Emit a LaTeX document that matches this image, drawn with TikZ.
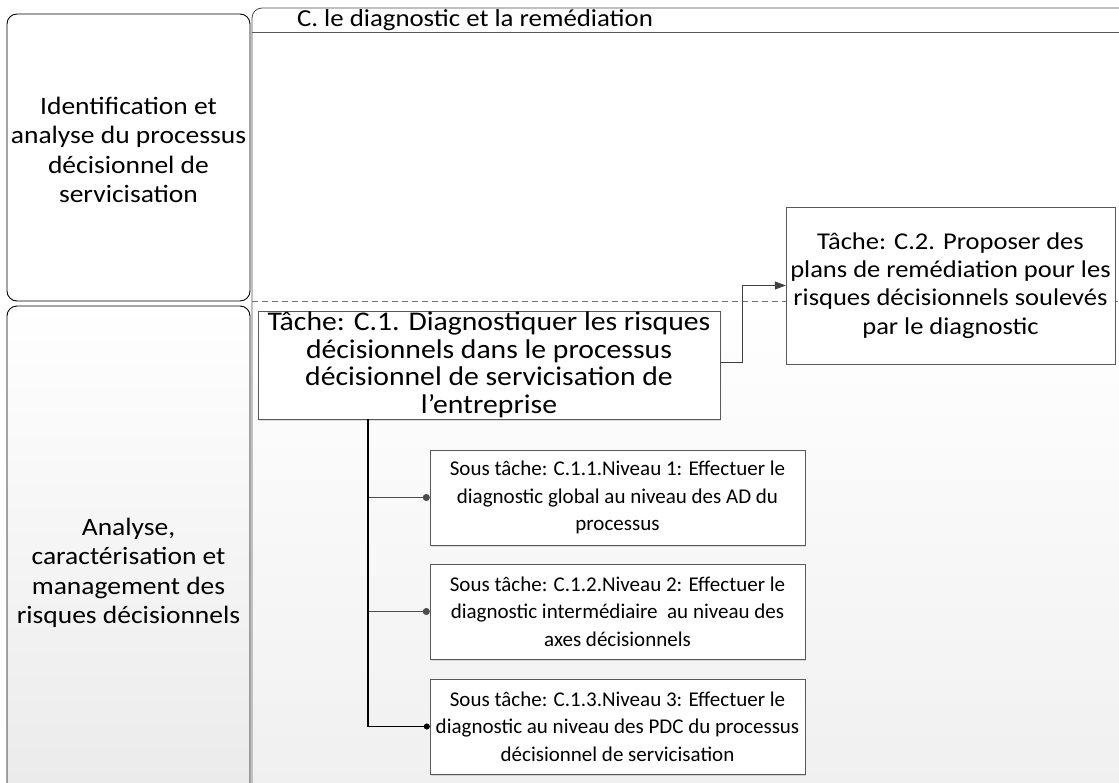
\documentclass[tikz,border=0pt]{standalone}
\usepackage{fontspec}
\setmainfont{Carlito}
\newfontfamily\widefont[FakeStretch=1.1]{Carlito}
\usetikzlibrary{arrows.meta,shadows}
\begin{document}
\begin{tikzpicture}[
x=1pt,y=-1pt,
lane/.style={draw,line width=0.9pt,rounded corners=10pt},
task/.style={draw=black!65,fill=white,align=center,inner sep=0pt,
  drop shadow={shadow xshift=1.2pt,shadow yshift=-1.5pt,opacity=0.25}},
subtask/.style={task,minimum width=375pt,minimum height=95pt,
  font=\fontsize{21}{27.5}\selectfont},
label/.style={align=center,font=\widefont\fontsize{25}{29.5}\selectfont},
flow/.style={draw=black!75,line width=1pt,-{Triangle[length=11pt,width=8pt]}},
trunk/.style={draw,line width=1.4pt,-{Circle[length=6pt]}},
branch/.style={draw=black!70,line width=1pt,-{Circle[length=7pt]}},
]
\useasboundingbox (0,0) rectangle (1119,783);
% lanes
\path[lane,top color=white,bottom color=black!8] (7,306) rectangle (250,795);
\fill[top color=white,bottom color=black!6] (253,302) rectangle (1125,795);
\path[lane] (7,14) rectangle (250,301);
\draw[line width=0.8pt,black!70,rounded corners=10pt] (252,795) -- (252,8) -- (1130,8);
\draw[black!65,line width=0.8pt] (252,32) -- (1119,32);
\draw[black!55,dashed,dash pattern=on 6pt off 4pt] (252,301) -- (1119,301);
\node[label] (ident) at (128.5,150) {Identification et\\analyse du processus\\décisionnel de\\servicisation};
\node[label] (analyse) at (128.5,573) {Analyse,\\caractérisation et\\management des\\risques décisionnels};
\node[font=\widefont\fontsize{24.4}{27}\selectfont] (title) at (475,20) {C. le diagnostic et la remédiation};
% tasks
\node[task,minimum width=462pt,minimum height=108pt,font=\widefont\fontsize{27}{27.6}\selectfont] (C1) at (489,365)
  {Tâche: C.1. Diagnostiquer les risques\\décisionnels dans le processus\\décisionnel de servicisation de\\l’entreprise};
\node[task,minimum width=329pt,minimum height=157pt,font=\widefont\fontsize{24.1}{28.3}\selectfont] (C2) at (950.5,285.5)
  {Tâche: C.2. Proposer des\\plans de remédiation pour les\\risques décisionnels soulevés\\par le diagnostic};
\node[subtask] (S1) at (617.5,497.5)
  {Sous tâche: C.1.1.Niveau 1: Effectuer le\\diagnostic global au niveau des AD du\\processus};
\node[subtask] (S2) at (617.5,611.5)
  {Sous tâche: C.1.2.Niveau 2: Effectuer le\\diagnostic intermédiaire\ \ au niveau des\\axes décisionnels};
\node[subtask] (S3) at (617.5,726.5)
  {Sous tâche: C.1.3.Niveau 3: Effectuer le\\diagnostic au niveau des PDC du processus\\décisionnel de servicisation};
\coordinate (fork) at ([xshift=110pt]C1.south west);
% connectors
\draw[flow] ([yshift=2pt]C1.east) -- ++(22,0) |- (C2.west);
\draw[branch] (fork |- S1.west) -- (S1.west);
\draw[branch] (fork |- S2.west) -- (S2.west);
\draw[trunk] (fork) |- (S3.west);
\end{tikzpicture}
\end{document}
